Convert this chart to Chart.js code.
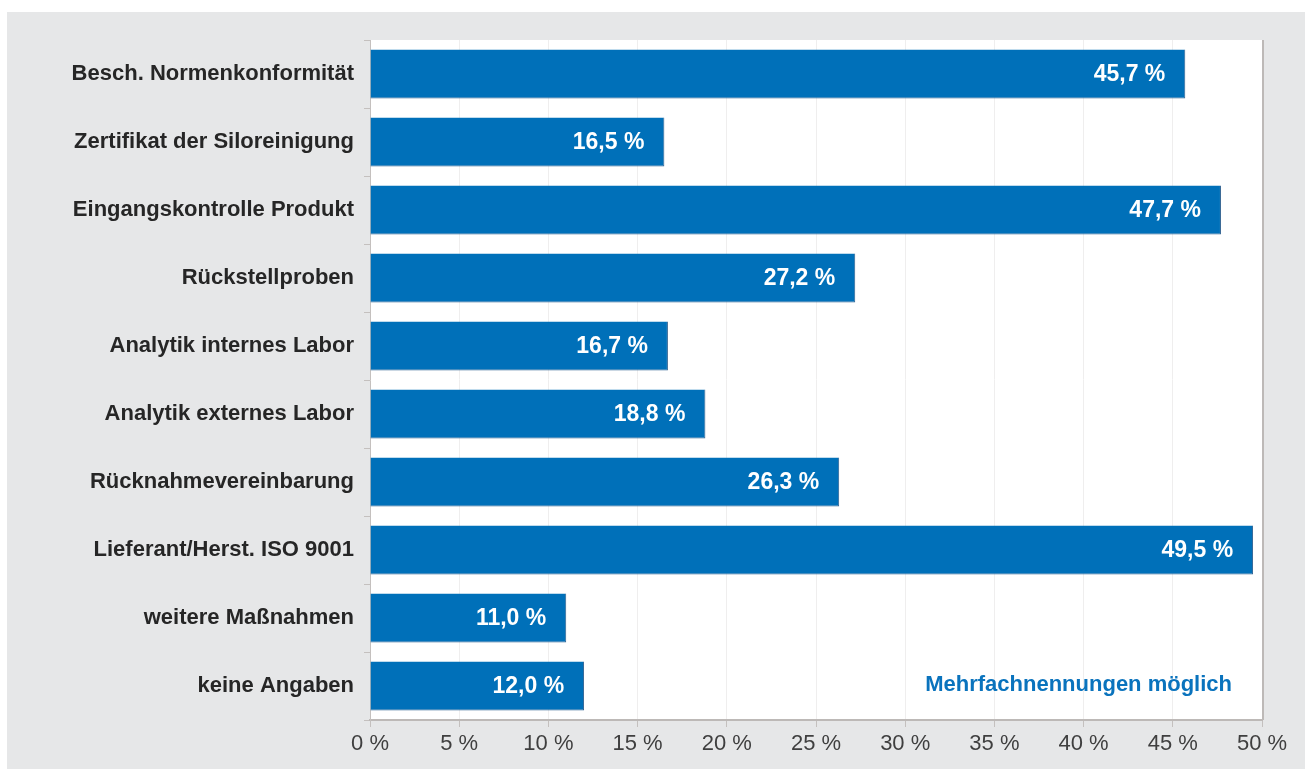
<!DOCTYPE html>
<html>
<head>
<meta charset="utf-8">
<script src="https://cdn.jsdelivr.net/npm/chart.js@4/dist/chart.umd.min.js"></script>
<style>
  html, body { margin: 0; padding: 0; background: #fff; }
  #wrap { width: 1305px; height: 769px; }
</style>
</head>
<body>
<div id="wrap"><canvas id="chart" width="1305" height="769"></canvas></div>
<script>
// Kategorien und Werte (Anteil in %)
const categories = [
    'Besch. Normenkonformität',
    'Zertifikat der Siloreinigung',
    'Eingangskontrolle Produkt',
    'Rückstellproben',
    'Analytik internes Labor',
    'Analytik externes Labor',
    'Rücknahmevereinbarung',
    'Lieferant/Herst. ISO 9001',
    'weitere Maßnahmen',
    'keine Angaben'
];
const values = [45.7, 16.5, 47.7, 27.2, 16.7, 18.8, 26.3, 49.5, 11.0, 12.0];
const xTicks = [0, 5, 10, 15, 20, 25, 30, 35, 40, 45, 50];
const noteText = 'Mehrfachnennungen möglich';

const FONT = '"Liberation Sans", Arial, sans-serif';
const BLUE = '#0070b9';

function fmt(v, digits) {
    return v.toFixed(digits).replace('.', ',') + ' %';
}

// Hintergrund: weißer Rand, graues Feld, weiße Plotfläche
const backgroundPlugin = {
    id: 'panelBackground',
    beforeDraw(chart) {
        const ctx = chart.ctx;
        const a = chart.chartArea;
        ctx.save();
        ctx.fillStyle = '#ffffff';
        ctx.fillRect(0, 0, chart.width, chart.height);
        ctx.fillStyle = '#e6e7e8';
        ctx.fillRect(7, 12, chart.width - 7, chart.height - 12);
        ctx.fillStyle = '#ffffff';
        ctx.fillRect(a.left, a.top, a.right - a.left, a.bottom - a.top);
        ctx.restore();
    },
    afterDraw(chart) {
        const ctx = chart.ctx;
        const a = chart.chartArea;
        ctx.save();
        ctx.strokeStyle = '#bdb9b7';
        ctx.lineWidth = 2;
        ctx.beginPath();
        ctx.moveTo(a.right + 1, a.top);
        ctx.lineTo(a.right + 1, a.bottom);
        ctx.stroke();
        // Hinweis
        ctx.fillStyle = '#0a73bd';
        ctx.font = 'bold 22px ' + FONT;
        ctx.textAlign = 'right';
        ctx.textBaseline = 'middle';
        ctx.fillText(noteText, a.right - 30, a.bottom - 35);
        ctx.restore();
    }
};

// Werte in den Balken
const valueLabelPlugin = {
    id: 'valueLabels',
    afterDatasetsDraw(chart) {
        const ctx = chart.ctx;
        const meta = chart.getDatasetMeta(0);
        ctx.save();
        ctx.fillStyle = '#ffffff';
        ctx.font = 'bold 23px ' + FONT;
        ctx.textAlign = 'right';
        ctx.textBaseline = 'middle';
        meta.data.forEach(function(bar, i) {
            ctx.fillText(fmt(values[i], 1), bar.x - 20, bar.y + 1);
        });
        ctx.restore();
    }
};

const ctx = document.getElementById('chart').getContext('2d');
new Chart(ctx, {
    type: 'bar',
    data: {
        labels: categories,
        datasets: [{
            data: values,
            backgroundColor: BLUE,
            borderColor: '#2d5f8f',
            borderWidth: { top: 0, left: 0, right: 1, bottom: 1 },
            borderSkipped: false,
            barPercentage: 0.72,
            categoryPercentage: 1.0
        }]
    },
    options: {
        indexAxis: 'y',
        responsive: false,
        animation: false,
        layout: {
            padding: { left: 0, right: 43, top: 40, bottom: 0 }
        },
        plugins: {
            legend: { display: false },
            tooltip: { enabled: false }
        },
        scales: {
            x: {
                min: 0,
                max: 50,
                afterBuildTicks(scale) {
                    scale.ticks = xTicks.map(v => ({ value: v }));
                },
                afterFit(scale) {
                    scale.height = 49;
                },
                grid: {
                    color: '#efeeee',
                    lineWidth: 1,
                    tickLength: 7,
                    tickColor: '#c4c0be'
                },
                border: { color: '#bdb9b7', width: 2 },
                ticks: {
                    color: '#3f3f3f',
                    font: { family: FONT, size: 22 },
                    padding: 4,
                    callback: function(value) {
                        return value + ' %';
                    }
                }
            },
            y: {
                afterFit(scale) {
                    scale.width = 370;
                },
                grid: {
                    drawOnChartArea: false,
                    offset: true,
                    tickLength: 6,
                    tickColor: '#c4c0be'
                },
                border: { color: '#c4c0be', width: 1 },
                ticks: {
                    color: '#262626',
                    font: { family: FONT, size: 22, weight: 'bold' },
                    padding: 10
                }
            }
        }
    },
    plugins: [backgroundPlugin, valueLabelPlugin]
});
</script>
</body>
</html>
